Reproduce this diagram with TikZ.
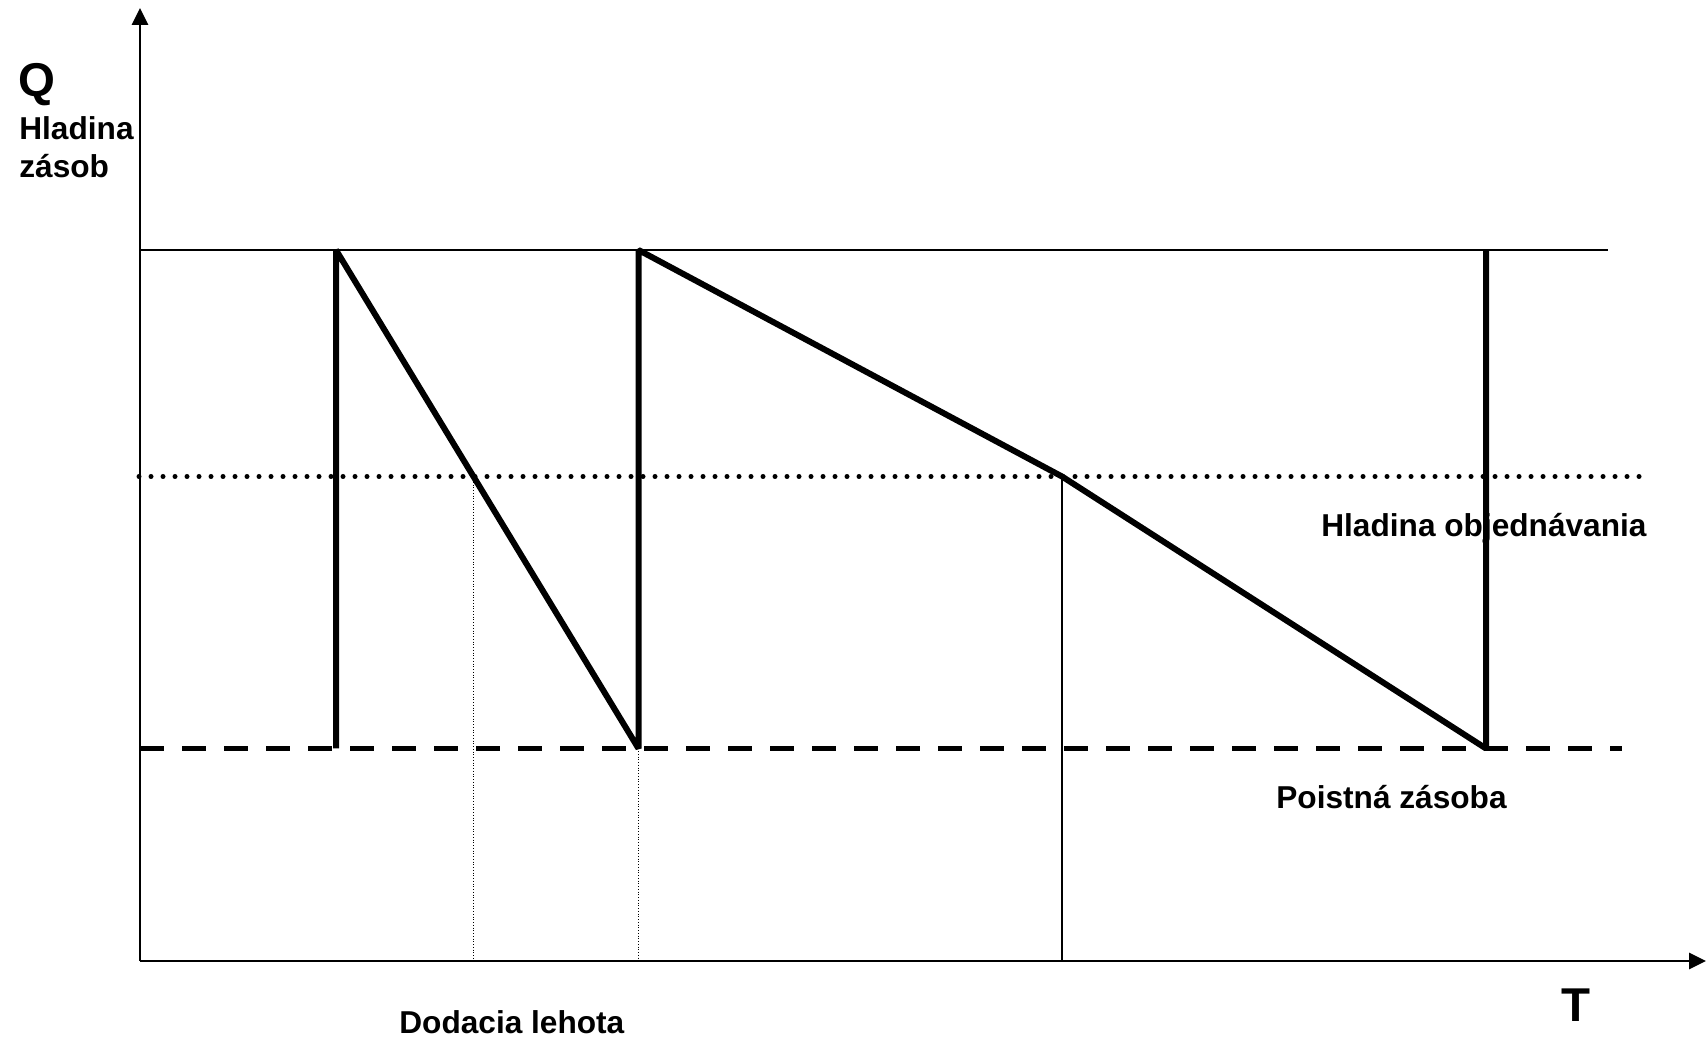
\documentclass[tikz,border=0pt]{standalone}
\usepackage{fontspec}
\setmainfont{Liberation Sans}
\usetikzlibrary{arrows.meta}

\begin{document}
\begin{tikzpicture}[
      x=0.2mm, y=-0.2mm,
      axis/.style={line width=0.55mm, -{Triangle[length=3.4mm, width=3.2mm]}},
      stock/.style={line width=1.2mm, line join=bevel},
      thinline/.style={line width=0.4mm},
      guide/.style={line width=0.2mm, dash pattern=on 0.2mm off 0.35mm},
      orderlvl/.style={line width=1mm, line cap=round, dash pattern=on 0pt off 2.4mm},
      safety/.style={line width=1mm, dash pattern=on 4.8mm off 3.6mm},
      lbl/.style={font=\bfseries\fontsize{18}{21}\selectfont, anchor=base west, inner sep=0pt},
      biglbl/.style={font=\bfseries\fontsize{27}{30}\selectfont, anchor=base west, inner sep=0pt}
  ]
      \useasboundingbox (0,0) rectangle (1706,1041);
      % axes
      \coordinate (o) at (140,961);
      \coordinate (ytop) at (140,8);
      \coordinate (xend) at (1706,961);
      \draw[axis] (o) -- (ytop);
      \draw[axis] (o) -- (xend);
      % levels
      \coordinate (maxL) at (140,250);
      \coordinate (maxR) at (1608,250);
      \coordinate (ordL) at (139,476.5);
      \coordinate (ordR) at (1641,476.5);
      \coordinate (safL) at (140,748.5);
      \coordinate (safR) at (1622,748.5);
      \draw[thinline, line width=0.5mm] (maxL) -- (maxR);
      \draw[orderlvl] (ordL) -- (ordR);
      \draw[safety] (safL) -- (safR);
      % stock curve
      \coordinate (p1) at (336,748.5);
      \coordinate (p2) at (336,250);
      \coordinate (p3) at (638.5,748.5);
      \coordinate (p4) at (638.5,250);
      \coordinate (r2) at (1062,476.5);
      \coordinate (p5) at (1486,748.5);
      \coordinate (p6) at (1486,250);
      \coordinate (r1) at (473,476.5);
      \draw[stock] (p1) -- (p2) -- (p3) -- (p4) -- (r2) -- (p5) -- (p6);
      % lead time guides
      \coordinate (g1) at (473,961);
      \coordinate (g2) at (638.5,961);
      \coordinate (g3) at (1062,961);
      \draw[guide] (r1) -- (g1);
      \draw[guide] (p3) -- (g2);
      \draw[thinline] (r2) -- (g3);
      % labels
      \node[biglbl] (qlbl) at (18,97) {Q};
      \node[lbl] (ylbl1) at (19,140) {Hladina};
      \node[lbl] (ylbl2) at (19,178) {zásob};
      \node[lbl] (ordlbl) at (1321,537) {Hladina objednávania};
      \node[lbl] (saflbl) at (1276,809) {Poistná zásoba};
      \node[lbl] (leadlbl) at (399,1033) {Dodacia lehota};
      \node[biglbl] (tlbl) at (1561,1021) {T};
  \end{tikzpicture}
\end{document}
